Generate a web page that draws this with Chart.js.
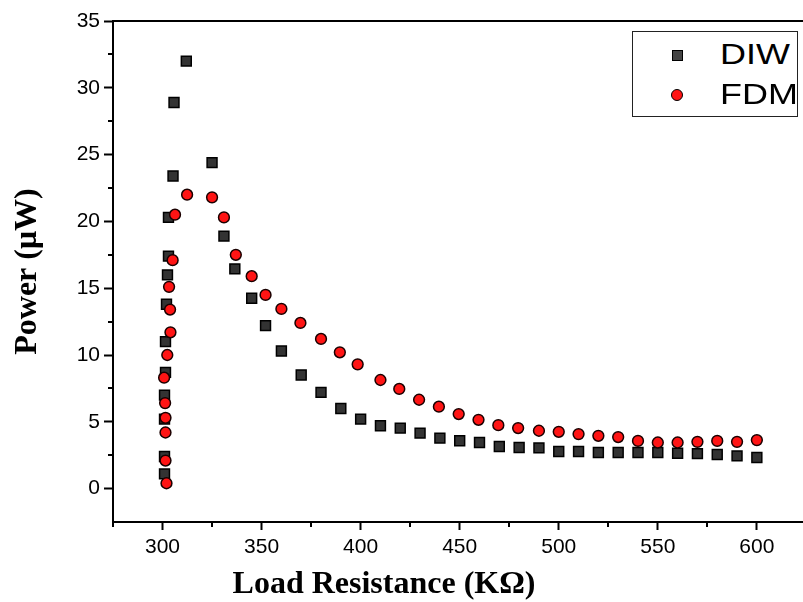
<!DOCTYPE html>
<html>
<head>
<meta charset="utf-8">
<script src="https://cdn.jsdelivr.net/npm/chart.js@4.4.1/dist/chart.umd.min.js"></script>
<style>
  body { margin: 0; background: #fff; }
  #wrap { position: relative; width: 803px; height: 602px; overflow: hidden; }
  #judulX {
    position: absolute; left: 0; width: 768px; top: 562px; text-align: center;
    font: bold 32px 'Liberation Serif', 'Times New Roman', serif; color: #000; line-height: 40px;
  }
  #legenda {
    position: absolute; left: 632px; top: 31px; width: 166px; height: 86px;
    border: 1px solid #222; box-sizing: border-box; background: #fff;
  }
  .item { position: absolute; left: 0; height: 40px; width: 166px; }
  .item span {
    position: absolute; left: 87px; top: 2px; font: 29px 'Liberation Sans', Arial, sans-serif;
    color: #000; transform: scaleX(1.24); transform-origin: left center; line-height: 36px;
  }
  .kotak { position: absolute; left: 39px; top: 16px; width: 9px; height: 9px; background: #444; border: 1.5px solid #000; }
  .bulat { position: absolute; left: 38px; top: 15px; width: 10px; height: 10px; border-radius: 50%; background: #ff1414; border: 1.5px solid #000; }
</style>
</head>
<body>
<div id="wrap">
  <canvas id="grafikDaya" width="803" height="602"></canvas>
  <div id="judulX">Load Resistance (KΩ)</div>
  <div id="legenda">
    <div class="item" style="top:2px"><div class="kotak"></div><span>DIW</span></div>
    <div class="item" style="top:42px"><div class="bulat"></div><span>FDM</span></div>
  </div>
</div>
<script>
// Data
const diwX = [301, 301, 301, 301, 301.5, 301.5, 302, 302.5, 303, 303, 305.3, 305.8, 312,
  325, 331, 336.5, 345, 352, 360, 370, 380, 390, 400, 410, 420, 430, 440, 450, 460, 470,
  480, 490, 500, 510, 520, 530, 540, 550, 560, 570, 580, 590, 600];
const diwY = [1.1, 2.4, 5.2, 7.0, 8.7, 11.0, 13.8, 16.0, 17.4, 20.3, 23.4, 28.9, 32.0,
  24.4, 18.9, 16.45, 14.25, 12.2, 10.3, 8.5, 7.2, 6.0, 5.2, 4.7, 4.53, 4.15, 3.78, 3.58, 3.45, 3.15,
  3.08, 3.05, 2.78, 2.78, 2.7, 2.7, 2.7, 2.7, 2.65, 2.62, 2.55, 2.45, 2.33];

const fdmX = [302, 301.5, 301.5, 301.5, 301.3, 300.8, 302.4, 304, 303.8, 303.3, 305.1, 306.3, 312.4,
  325, 331, 337, 345, 352, 360, 369.6, 380, 389.5, 398.5, 410, 419.5, 429.5, 439.5, 449.5, 459.5, 469.5,
  479.5, 490, 500, 510, 520, 530, 540, 550, 560, 570, 580, 590, 600];
const fdmY = [0.4, 2.1, 4.2, 5.3, 6.4, 8.3, 10.0, 11.7, 13.4, 15.1, 17.1, 20.5, 22.0,
  21.8, 20.3, 17.5, 15.9, 14.5, 13.45, 12.4, 11.2, 10.2, 9.3, 8.13, 7.46, 6.65, 6.13, 5.58, 5.15, 4.75,
  4.53, 4.33, 4.25, 4.08, 3.95, 3.86, 3.57, 3.45, 3.45, 3.5, 3.57, 3.5, 3.63];

// Tick kecil (minor)
const xMinor = [275, 325, 375, 425, 475, 525, 575];
const yMinor = [2.5, 7.5, 12.5, 17.5, 22.5, 27.5, 32.5];

const titik = (xs, ys) => xs.map((x, i) => ({ x: x, y: ys[i] }));

// Plugin garis tepi atas/bawah sampai ujung kanan dan tick minor
const tepiDanMinor = {
  id: 'tepiDanMinor',
  afterDraw(chart) {
    const { ctx, chartArea, scales } = chart;
    ctx.save();
    ctx.strokeStyle = '#000';
    ctx.lineWidth = 2;
    ctx.beginPath();
    ctx.moveTo(chartArea.left - 1, chartArea.top);
    ctx.lineTo(chart.width, chartArea.top);
    ctx.moveTo(chartArea.right - 1, chartArea.bottom);
    ctx.lineTo(chart.width, chartArea.bottom);
    ctx.stroke();
    xMinor.forEach(v => {
      const px = Math.round(scales.x.getPixelForValue(v));
      ctx.beginPath();
      ctx.moveTo(px, chartArea.bottom);
      ctx.lineTo(px, chartArea.bottom + 5);
      ctx.stroke();
    });
    yMinor.forEach(v => {
      const py = Math.round(scales.y.getPixelForValue(v));
      ctx.beginPath();
      ctx.moveTo(chartArea.left, py);
      ctx.lineTo(chartArea.left - 5, py);
      ctx.stroke();
    });
    ctx.restore();
  }
};

const ctxDaya = document.getElementById('grafikDaya');
let grafikDaya = new Chart(ctxDaya, {
  type: 'scatter',
  data: {
    datasets: [{
      label: 'DIW',
      data: titik(diwX, diwY),
      pointStyle: 'rect',
      pointRadius: 7,
      backgroundColor: '#333',
      borderColor: '#000',
      borderWidth: 1.5,
      order: 2
    }, {
      label: 'FDM',
      data: titik(fdmX, fdmY),
      pointStyle: 'circle',
      pointRadius: 5.4,
      backgroundColor: '#ff1414',
      borderColor: '#1a0000',
      borderWidth: 1.5,
      order: 1
    }]
  },
  options: {
    responsive: false,
    animation: false,
    layout: { padding: { top: 21, right: 0, left: 0, bottom: 0 } },
    plugins: {
      legend: { display: false },
      tooltip: { enabled: false }
    },
    scales: {
      x: {
        type: 'linear',
        min: 275,
        max: 619,
        afterFit: (s) => { s.height = 80; },
        border: { color: '#000', width: 2 },
        grid: { drawOnChartArea: false, drawTicks: true, tickLength: 8, tickColor: '#000', tickWidth: 2 },
        ticks: {
          stepSize: 50,
          includeBounds: false,
          color: '#000',
          padding: 5,
          font: { family: "'Liberation Sans', Arial, sans-serif", size: 21 }
        }
      },
      y: {
        min: -2.5,
        max: 35,
        afterFit: (s) => { s.width = 113; },
        border: { color: '#000', width: 2 },
        grid: { drawOnChartArea: false, drawTicks: true, tickLength: 9, tickColor: '#000', tickWidth: 2 },
        ticks: {
          stepSize: 5,
          includeBounds: false,
          color: '#000',
          padding: 4,
          font: { family: "'Liberation Sans', Arial, sans-serif", size: 21 }
        },
        title: {
          display: true,
          text: 'Power (μW)',
          color: '#000',
          padding: { top: 9, bottom: 0 },
          font: { family: "'Liberation Serif', 'Times New Roman', serif", size: 32, weight: 'bold' }
        }
      }
    }
  },
  plugins: [tepiDanMinor]
});
</script>
</body>
</html>
